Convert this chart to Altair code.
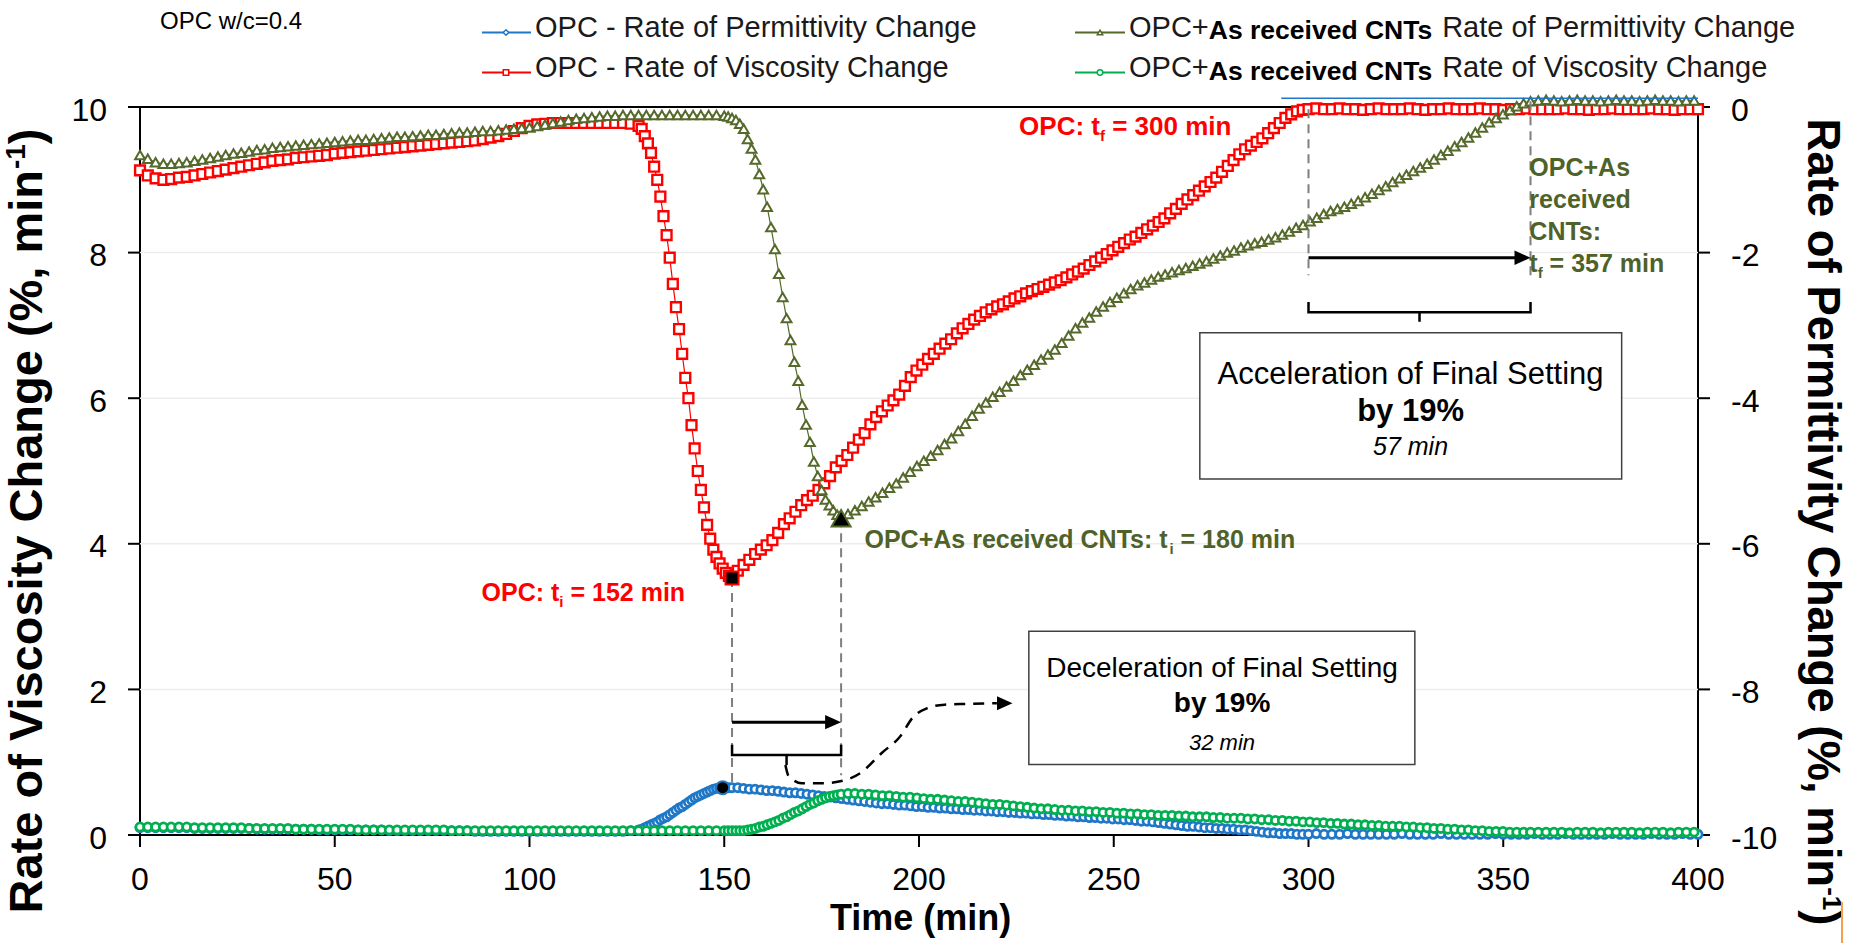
import altair as alt
import numpy as np
import pandas as pd

FONT = "Liberation Sans"
RED = "#FF0000"
OLIVE = "#4F6228"
OLIVE_MK = "#55692B"
BLUE = "#1F77C8"
GREEN = "#00B050"
GUIDE = "#7F7F7F"

# ---------------- sampling times (min) ----------------
T_OPC = np.round(np.concatenate([
    np.arange(0, 129, 2.0),            # 0-128
    128.8 + 0.8 * np.arange(30),       # 128.8-152
    152 + 1.48 * np.arange(1, 101),    # 153.5-300
    np.arange(302, 401, 2.0),          # 302-400
]), 2)
T_CNT = np.round(np.concatenate([
    np.arange(0, 151, 2.0),            # 0-150
    np.arange(151, 181, 1.0),          # 151-180
    180 + 1.77 * np.arange(1, 101),    # 181.8-357
    np.arange(359, 400, 2.0),          # 359-399
]), 2)

# ---------------- OPC - Rate of Viscosity Change (red squares) ----------------
OPC_VISC = [
    9.13, 9.06, 9.02, 9.00, 9.01, 9.03, 9.04, 9.06, 9.08, 9.10,
    9.12, 9.14, 9.16, 9.18, 9.20, 9.22, 9.24, 9.26, 9.27, 9.28,
    9.30, 9.31, 9.32, 9.33, 9.34, 9.36, 9.37, 9.38, 9.39, 9.40,
    9.41, 9.42, 9.43, 9.44, 9.45, 9.46, 9.47, 9.48, 9.49, 9.50,
    9.51, 9.52, 9.53, 9.54, 9.56, 9.58, 9.60, 9.63, 9.67, 9.71,
    9.74, 9.76, 9.77, 9.78, 9.78, 9.78, 9.78, 9.78, 9.78, 9.78,
    9.78, 9.78, 9.78, 9.77, 9.74,
] + [
    9.70, 9.60, 9.50, 9.37, 9.18, 9.00, 8.77, 8.50, 8.24, 7.93,
    7.57, 7.25, 6.95, 6.61, 6.28, 6.00, 5.63, 5.31, 5.00, 4.74,
    4.50, 4.26, 4.07, 3.92, 3.82, 3.73, 3.66, 3.60, 3.56, 3.53,
] + [
    3.63, 3.71, 3.78, 3.86, 3.92, 3.98, 4.05, 4.15, 4.27, 4.35,
    4.44, 4.53, 4.60, 4.66, 4.74, 4.83, 4.93, 5.05, 5.14, 5.22,
    5.32, 5.43, 5.52, 5.64, 5.74, 5.82, 5.90, 5.97, 6.05, 6.17,
    6.29, 6.38, 6.46, 6.54, 6.61, 6.68, 6.75, 6.81, 6.89, 6.96,
    7.02, 7.08, 7.13, 7.18, 7.22, 7.26, 7.29, 7.33, 7.37, 7.40,
    7.44, 7.47, 7.50, 7.53, 7.56, 7.59, 7.62, 7.66, 7.70, 7.74,
    7.78, 7.83, 7.88, 7.93, 7.98, 8.03, 8.08, 8.13, 8.18, 8.22,
    8.27, 8.32, 8.37, 8.42, 8.47, 8.54, 8.60, 8.67, 8.73, 8.79,
    8.85, 8.91, 8.97, 9.03, 9.11, 9.19, 9.27, 9.35, 9.42, 9.47,
    9.52, 9.57, 9.64, 9.71, 9.78, 9.85, 9.90, 9.94, 9.96, 9.97,
] + [
    9.98, 9.97, 9.97, 9.98, 9.97, 9.97, 9.96, 9.97, 9.98, 9.97,
    9.97, 9.97, 9.98, 9.97, 9.96, 9.97, 9.97, 9.98, 9.97, 9.97,
    9.97, 9.98, 9.97, 9.97, 9.96, 9.97, 9.97, 9.98, 9.97, 9.97,
    9.97, 9.97, 9.98, 9.97, 9.97, 9.96, 9.97, 9.97, 9.98, 9.97,
    9.97, 9.97, 9.97, 9.98, 9.97, 9.97, 9.96, 9.97, 9.97, 9.97,
]

# ---------------- OPC - Rate of Permittivity Change (blue circles) ----------------
OPC_PERM = [
    0.10, 0.10, 0.10, 0.10, 0.10, 0.10, 0.10, 0.09, 0.09, 0.09,
    0.09, 0.09, 0.09, 0.09, 0.09, 0.08, 0.08, 0.08, 0.08, 0.08,
    0.08, 0.08, 0.08, 0.07, 0.07, 0.07, 0.07, 0.07, 0.07, 0.07,
    0.07, 0.07, 0.06, 0.06, 0.06, 0.06, 0.06, 0.06, 0.06, 0.06,
    0.06, 0.06, 0.06, 0.05, 0.05, 0.05, 0.05, 0.05, 0.05, 0.05,
    0.05, 0.05, 0.05, 0.05, 0.05, 0.05, 0.05, 0.05, 0.05, 0.05,
    0.05, 0.05, 0.05, 0.06, 0.07,
] + [
    0.08, 0.10, 0.12, 0.14, 0.16, 0.18, 0.21, 0.23, 0.25, 0.28,
    0.31, 0.34, 0.37, 0.39, 0.42, 0.45, 0.48, 0.51, 0.53, 0.55,
    0.57, 0.59, 0.61, 0.63, 0.64, 0.64, 0.65, 0.65, 0.65, 0.65,
] + [
    0.65, 0.64, 0.63, 0.63, 0.62, 0.61, 0.61, 0.60, 0.59, 0.58,
    0.58, 0.57, 0.56, 0.55, 0.54, 0.53, 0.52, 0.51, 0.50, 0.49,
    0.48, 0.47, 0.46, 0.45, 0.44, 0.43, 0.43, 0.42, 0.41, 0.41,
    0.40, 0.39, 0.39, 0.38, 0.38, 0.37, 0.37, 0.36, 0.36, 0.35,
    0.35, 0.34, 0.34, 0.33, 0.33, 0.32, 0.32, 0.31, 0.31, 0.30,
    0.30, 0.29, 0.29, 0.28, 0.28, 0.27, 0.27, 0.26, 0.26, 0.25,
    0.25, 0.24, 0.24, 0.23, 0.23, 0.22, 0.22, 0.21, 0.21, 0.20,
    0.19, 0.19, 0.18, 0.17, 0.16, 0.15, 0.14, 0.13, 0.12, 0.12,
    0.11, 0.10, 0.10, 0.09, 0.09, 0.08, 0.08, 0.07, 0.07, 0.06,
    0.05, 0.04, 0.03, 0.03, 0.02, 0.02, 0.02, 0.01, 0.01, 0.01,
] + [
    0.02, 0.01, 0.01, 0.01, 0.02, 0.01, 0.01, 0.01, 0.01, 0.01,
    0.01, 0.02, 0.01, 0.01, 0.01, 0.01, 0.02, 0.01, 0.01, 0.01,
    0.01, 0.01, 0.01, 0.02, 0.01, 0.01, 0.01, 0.01, 0.02, 0.01,
    0.01, 0.01, 0.02, 0.01, 0.01, 0.01, 0.01, 0.01, 0.02, 0.01,
    0.01, 0.01, 0.01, 0.02, 0.01, 0.01, 0.01, 0.02, 0.01, 0.01,
]

# ---------------- OPC+As received CNTs Rate of Permittivity Change (olive triangles) ----------------
CNT_PERM = [
    9.34, 9.29, 9.24, 9.22, 9.22, 9.23, 9.24, 9.26, 9.28, 9.30,
    9.32, 9.34, 9.36, 9.37, 9.39, 9.41, 9.42, 9.44, 9.45, 9.46,
    9.47, 9.48, 9.49, 9.50, 9.51, 9.52, 9.53, 9.54, 9.55, 9.55,
    9.56, 9.57, 9.58, 9.59, 9.59, 9.60, 9.61, 9.62, 9.62, 9.63,
    9.64, 9.65, 9.65, 9.66, 9.67, 9.67, 9.68, 9.69, 9.70, 9.71,
    9.72, 9.74, 9.76, 9.78, 9.80, 9.82, 9.84, 9.85, 9.86, 9.87,
    9.88, 9.88, 9.89, 9.89, 9.89, 9.89, 9.89, 9.89, 9.89, 9.89,
    9.89, 9.89, 9.89, 9.89, 9.89, 9.88,
] + [
    9.87, 9.85, 9.82, 9.77, 9.70, 9.56, 9.43, 9.28, 9.08, 8.87,
    8.63, 8.35, 8.05, 7.71, 7.39, 7.10, 6.80, 6.50, 6.24, 5.91,
    5.64, 5.40, 5.13, 4.93, 4.74, 4.61, 4.53, 4.46, 4.40, 4.35,
] + [
    4.41, 4.46, 4.52, 4.58, 4.64, 4.70, 4.77, 4.83, 4.91, 4.99,
    5.07, 5.14, 5.21, 5.29, 5.37, 5.45, 5.55, 5.65, 5.76, 5.86,
    5.94, 6.02, 6.09, 6.16, 6.24, 6.32, 6.39, 6.46, 6.53, 6.60,
    6.67, 6.76, 6.86, 6.96, 7.04, 7.11, 7.19, 7.26, 7.32, 7.38,
    7.44, 7.50, 7.55, 7.59, 7.63, 7.67, 7.70, 7.73, 7.76, 7.79,
    7.82, 7.85, 7.88, 7.92, 7.96, 8.00, 8.03, 8.07, 8.10, 8.13,
    8.15, 8.18, 8.21, 8.25, 8.29, 8.34, 8.38, 8.43, 8.48, 8.53,
    8.57, 8.60, 8.63, 8.67, 8.71, 8.76, 8.81, 8.86, 8.91, 8.97,
    9.02, 9.07, 9.12, 9.17, 9.22, 9.28, 9.34, 9.40, 9.46, 9.52,
    9.58, 9.65, 9.72, 9.79, 9.85, 9.90, 9.96, 10.01, 10.05, 10.08,
] + [
    10.09, 10.10, 10.09, 10.08, 10.09, 10.10, 10.09, 10.09, 10.08, 10.09,
    10.10, 10.09, 10.09, 10.08, 10.09, 10.10, 10.09, 10.09, 10.08, 10.09,
    10.09,
]

# ---------------- OPC+As received CNTs Rate of Viscosity Change (green circles) ----------------
CNT_VISC = [
    0.11, 0.11, 0.11, 0.11, 0.11, 0.11, 0.11, 0.10, 0.10, 0.10,
    0.10, 0.10, 0.10, 0.10, 0.09, 0.09, 0.09, 0.09, 0.09, 0.09,
    0.08, 0.08, 0.08, 0.08, 0.08, 0.08, 0.08, 0.08, 0.07, 0.07,
    0.07, 0.07, 0.07, 0.07, 0.07, 0.07, 0.07, 0.07, 0.07, 0.07,
    0.06, 0.06, 0.06, 0.06, 0.06, 0.06, 0.06, 0.06, 0.06, 0.06,
    0.06, 0.06, 0.06, 0.06, 0.06, 0.06, 0.06, 0.06, 0.06, 0.06,
    0.06, 0.06, 0.06, 0.06, 0.06, 0.06, 0.06, 0.06, 0.06, 0.06,
    0.06, 0.06, 0.06, 0.06, 0.06, 0.06,
] + [
    0.06, 0.06, 0.06, 0.06, 0.06, 0.07, 0.08, 0.09, 0.11, 0.12,
    0.14, 0.16, 0.18, 0.20, 0.23, 0.25, 0.28, 0.31, 0.33, 0.36,
    0.39, 0.42, 0.44, 0.47, 0.49, 0.51, 0.53, 0.54, 0.55, 0.56,
] + [
    0.57, 0.57, 0.56, 0.56, 0.55, 0.54, 0.54, 0.53, 0.52, 0.52,
    0.51, 0.50, 0.49, 0.49, 0.48, 0.47, 0.46, 0.46, 0.45, 0.44,
    0.43, 0.42, 0.42, 0.41, 0.40, 0.39, 0.38, 0.37, 0.36, 0.36,
    0.35, 0.34, 0.34, 0.33, 0.33, 0.32, 0.32, 0.31, 0.31, 0.30,
    0.30, 0.29, 0.29, 0.28, 0.28, 0.27, 0.27, 0.27, 0.26, 0.26,
    0.25, 0.25, 0.25, 0.24, 0.24, 0.23, 0.23, 0.23, 0.22, 0.22,
    0.21, 0.21, 0.20, 0.20, 0.19, 0.19, 0.18, 0.18, 0.17, 0.17,
    0.16, 0.16, 0.15, 0.15, 0.14, 0.14, 0.13, 0.13, 0.12, 0.12,
    0.12, 0.11, 0.11, 0.10, 0.10, 0.09, 0.09, 0.08, 0.08, 0.07,
    0.07, 0.06, 0.06, 0.05, 0.05, 0.05, 0.04, 0.04, 0.04, 0.04,
] + [
    0.04, 0.04, 0.04, 0.04, 0.03, 0.04, 0.04, 0.04, 0.03, 0.04,
    0.04, 0.04, 0.04, 0.03, 0.04, 0.04, 0.04, 0.03, 0.04, 0.04,
    0.04,
]

# setting times quoted in the annotations (min)
TI_OPC, TI_CNT = 152, 180
TF_OPC, TF_CNT = 300, 357

X_TICKS = list(range(0, 401, 50))
YL_TICKS = [0, 2, 4, 6, 8, 10]
YR_LABELS = ["-10", "-8", "-6", "-4", "-2", "0"]
GRID_AT = [2, 4, 6, 8]

opc = pd.DataFrame({"t": T_OPC, "perm": OPC_PERM, "visc": OPC_VISC})
cnt = pd.DataFrame({"t": T_CNT, "perm": CNT_PERM, "visc": CNT_VISC})

W, H = 1558, 728
XS = alt.Scale(domain=[0, 400], nice=False, zero=False)
YS = alt.Scale(domain=[0, 10], nice=False, zero=False)
ONE = pd.DataFrame({"a": [0]})

# ---------------- text measuring (Arial / Liberation Sans advance widths) ----------------
_CH = " !%()+,-./0123456789:=ABCDEFGHIJKLMNOPQRSTUVWXYZabcdefghijklmnopqrstuvwxyz"
_REG = [278, 278, 889, 333, 333, 584, 278, 333, 278, 278] + [556] * 10 + [278, 584] + \
       [667, 667, 722, 722, 667, 611, 778, 722, 278, 500, 667, 556, 833, 722, 778, 667, 778, 722,
        667, 611, 722, 667, 944, 667, 667, 611] + \
       [556, 556, 500, 556, 556, 278, 556, 556, 222, 222, 500, 222, 833, 556, 556, 556, 556, 333,
        500, 278, 556, 500, 722, 500, 500, 500]
_BLD = [278, 333, 889, 333, 333, 584, 278, 333, 278, 278] + [556] * 10 + [333, 584] + \
       [722, 722, 722, 722, 667, 611, 778, 722, 278, 556, 722, 611, 833, 722, 778, 667, 778, 722,
        667, 611, 722, 667, 944, 667, 667, 611] + \
       [556, 611, 556, 611, 556, 333, 611, 611, 278, 278, 556, 278, 889, 611, 611, 611, 611, 389,
        556, 333, 611, 556, 778, 556, 556, 500]
REG_W = dict(zip(_CH, _REG))
BLD_W = dict(zip(_CH, _BLD))


def text_w(s, size, bold):
    tab = BLD_W if bold else REG_W
    return sum(tab.get(c, 556) for c in s) * size / 1000.0


def R(text, size, bold=False, color="black", style="normal", dy=0):
    return (text, size, bold, color, style, dy)


def X(field):
    return alt.X(field, scale=XS, axis=None)


def Y(field):
    return alt.Y(field, scale=YS, axis=None)


def rich(runs, t=None, v=None, px=None, py=None, align="left", angle=0):
    """Text made of differently styled runs laid out one after another."""
    widths = [text_w(r[0], r[1], r[2]) for r in runs]
    total = sum(widths)
    pos = {"left": 0.0, "center": -total / 2.0, "right": -total}[align]
    out = []
    for (text, size, bold, color, style, dy), w in zip(runs, widths):
        body = text.lstrip(" ")
        lead = text_w(text[: len(text) - len(body)], size, bold)
        if px is None:
            base = alt.Chart(pd.DataFrame({"t": [t], "v": [v]})).encode(x=X("t:Q"), y=Y("v:Q"))
        else:
            base = alt.Chart(ONE).encode(x=alt.value(px), y=alt.value(py))
        out.append(base.mark_text(
            text=body, align="left", baseline="alphabetic", font=FONT, fontSize=size,
            fontWeight="bold" if bold else "normal", fontStyle=style, color=color,
            dx=round(pos + lead, 2), dy=dy, angle=angle))
        pos += w
    return out


layers = []

# ---------------- axes, drawn from the scales ----------------
grid = pd.DataFrame({"v": GRID_AT})
layers.append(alt.Chart(grid).mark_rule(color="#EDEDED", strokeWidth=1.5).encode(
    x=alt.value(0), x2=alt.value(W), y=Y("v:Q")))

yticks = pd.DataFrame({"v": YL_TICKS, "lab": [str(v) for v in YL_TICKS], "rlab": YR_LABELS})
layers.append(alt.Chart(yticks).mark_rule(color="black", strokeWidth=2).encode(
    x=alt.value(-12), x2=alt.value(0), y=Y("v:Q")))
layers.append(alt.Chart(yticks).mark_text(align="right", baseline="alphabetic", dy=13.5,
                                          font=FONT, fontSize=32, color="black").encode(
    x=alt.value(-33), y=Y("v:Q"), text="lab:N"))
layers.append(alt.Chart(yticks).mark_rule(color="black", strokeWidth=2).encode(
    x=alt.value(W), x2=alt.value(W + 12), y=Y("v:Q")))
layers.append(alt.Chart(yticks).mark_text(align="left", baseline="alphabetic", dy=13.5,
                                          font=FONT, fontSize=32, color="black").encode(
    x=alt.value(W + 33), y=Y("v:Q"), text="rlab:N"))

xticks = pd.DataFrame({"t": X_TICKS, "lab": [str(t) for t in X_TICKS]})
layers.append(alt.Chart(xticks).mark_rule(color="black", strokeWidth=2).encode(
    x=X("t:Q"), y=alt.value(H), y2=alt.value(H + 12)))
layers.append(alt.Chart(xticks).mark_text(align="center", baseline="alphabetic", font=FONT,
                                          fontSize=32, color="black").encode(
    x=X("t:Q"), y=alt.value(H + 55), text="lab:N"))


def series(df, col, color, shape, size, sw):
    base = alt.Chart(df).encode(x=X("t:Q"), y=Y(f"{col}:Q"))
    return [base.mark_line(color=color, strokeWidth=1.2),
            base.mark_point(shape=shape, size=size, filled=True, fill="white", stroke=color,
                            strokeWidth=sw, opacity=1)]


layers += series(opc, "perm", BLUE, "circle", 66, 2.8)
layers += series(opc, "visc", RED, "square", 96, 2.4)
layers += series(cnt, "perm", OLIVE_MK, "triangle-up", 96, 2.0)
layers += series(cnt, "visc", GREEN, "circle", 66, 2.8)

# thin blue trace along the top edge
top_df = pd.DataFrame({"t": [293], "t2": [400], "v": [10.12]})
layers.append(alt.Chart(top_df).mark_rule(color=BLUE, strokeWidth=1.5).encode(
    x=X("t:Q"), x2="t2:Q", y=Y("v:Q")))

# setting points picked from the curves
i_sq = int(np.argmin(OPC_VISC))
i_tr = int(np.argmin(CNT_PERM))
i_ci = int(np.argmax(OPC_PERM))
v_sq, v_tr = OPC_VISC[i_sq], CNT_PERM[i_tr]

# dashed guides
guides = pd.DataFrame({
    "t": [TI_OPC, TI_CNT, TF_OPC, TF_CNT],
    "v1": [v_sq, v_tr, 9.97, 10.08],
    "v2": [0.65, 0.82, 7.69, 7.69],
})
layers.append(alt.Chart(guides).mark_rule(color=GUIDE, strokeWidth=2, strokeDash=[9, 6]).encode(
    x=X("t:Q"), y=Y("v1:Q"), y2="v2:Q"))


def big(t, v, shape, size, edge):
    return alt.Chart(pd.DataFrame({"t": [t], "v": [v]})).mark_point(
        shape=shape, size=size, filled=True, fill="black", stroke=edge, strokeWidth=2,
        opacity=1).encode(x=X("t:Q"), y=Y("v:Q"))


layers.append(big(T_OPC[i_sq], v_sq, "square", 170, RED))
layers.append(big(T_CNT[i_tr], v_tr, "triangle-up", 360, OLIVE_MK))
layers.append(big(T_OPC[i_ci], OPC_PERM[i_ci], "circle", 170, BLUE))

# arrows between setting times
HEAD = "M0,0L-2,-0.9L-2,0.9Z"
arrows = pd.DataFrame({"t1": [TI_OPC, TF_OPC], "t2": [TI_CNT - 2, TF_CNT - 2],
                       "tip": [TI_CNT, TF_CNT], "v": [1.55, 7.93]})
layers.append(alt.Chart(arrows).mark_rule(color="black", strokeWidth=3).encode(
    x=X("t1:Q"), x2="t2:Q", y=Y("v:Q")))
layers.append(alt.Chart(arrows).mark_point(shape=HEAD, size=256, filled=True, color="black",
                                           opacity=1, strokeWidth=0).encode(
    x=X("tip:Q"), y=Y("v:Q")))

# braces under the arrows
brace = pd.DataFrame({
    "g": ["lo"] * 4 + ["hi"] * 4,
    "o": [0, 1, 2, 3] * 2,
    "t": [TI_OPC, TI_OPC, TI_CNT, TI_CNT, TF_OPC, TF_OPC, TF_CNT, TF_CNT],
    "v": [1.24, 1.10, 1.10, 1.24, 7.32, 7.18, 7.18, 7.32],
})
layers.append(alt.Chart(brace).mark_line(color="black", strokeWidth=2.5).encode(
    x=X("t:Q"), y=Y("v:Q"), detail="g:N", order="o:Q"))
stems = pd.DataFrame({"t": [(TI_OPC + TI_CNT) / 2, (TF_OPC + TF_CNT) / 2],
                      "v1": [1.10, 7.18], "v2": [0.96, 7.05]})
layers.append(alt.Chart(stems).mark_rule(color="black", strokeWidth=2.5).encode(
    x=X("t:Q"), y=Y("v1:Q"), y2="v2:Q"))

# dashed leader from the lower brace to its note
CURVE_T = [165.7, 166.4, 167.6, 169.9, 174.6, 179.1, 184.9, 190.5, 195.1, 198.5, 202.0, 206.6,
           212.0, 220.0]
CURVE_V = [0.96, 0.82, 0.76, 0.71, 0.71, 0.73, 0.85, 1.13, 1.35, 1.62, 1.74, 1.79, 1.80, 1.81]
curve = pd.DataFrame({"t": CURVE_T, "v": CURVE_V})
layers.append(alt.Chart(curve).mark_line(color="black", strokeWidth=2.5, strokeDash=[11, 8],
                                         interpolate="monotone").encode(x=X("t:Q"), y=Y("v:Q")))
layers.append(alt.Chart(pd.DataFrame({"t": [224.0], "v": [1.81]})).mark_point(
    shape=HEAD, size=240, filled=True, color="black", opacity=1, strokeWidth=0).encode(
    x=X("t:Q"), y=Y("v:Q")))

# note boxes
boxes = pd.DataFrame({"t1": [228.2, 272.1], "t2": [327.3, 380.4],
                      "v1": [2.80, 6.90], "v2": [0.97, 4.89]})
layers.append(alt.Chart(boxes).mark_rect(fill="white", stroke="#404040", strokeWidth=1.5).encode(
    x=X("t1:Q"), x2="t2:Q", y=Y("v1:Q"), y2="v2:Q"))

layers += rich([R("Deceleration of Final Setting", 28)], t=277.8, v=2.17, align="center")
layers += rich([R("by 19%", 28, bold=True)], t=277.8, v=1.69, align="center")
layers += rich([R("32 min", 22, style="italic")], t=277.8, v=1.17, align="center")
layers += rich([R("Acceleration of Final Setting", 31)], t=326.2, v=6.20, align="center")
layers += rich([R("by 19%", 31, bold=True)], t=326.2, v=5.68, align="center")
layers += rich([R("57 min", 25, style="italic")], t=326.2, v=5.22, align="center")

# setting-time labels
layers += rich([R("OPC: t", 25, True, RED), R("i", 15, True, RED, dy=6),
                R(f" = {TI_OPC} min", 25, True, RED)], t=87.7, v=3.22)
layers += rich([R("OPC+As received CNTs: t", 25, True, OLIVE), R("i", 15, True, OLIVE, dy=6),
                R(f" = {TI_CNT} min", 25, True, OLIVE)], t=186.0, v=3.94)
layers += rich([R("OPC: t", 26, True, RED), R("f", 15, True, RED, dy=6),
                R(f" = {TF_OPC} min", 26, True, RED)], t=225.7, v=9.62)
layers += rich([R("OPC+As", 25, True, OLIVE)], t=356.7, v=9.05)
layers += rich([R("received", 25, True, OLIVE)], t=356.7, v=8.61)
layers += rich([R("CNTs:", 25, True, OLIVE)], t=356.7, v=8.17)
layers += rich([R("t", 25, True, OLIVE), R("f", 15, True, OLIVE, dy=6),
                R(f" = {TF_CNT} min", 25, True, OLIVE)], t=356.7, v=7.74)

# axis titles
layers += rich([R("Time (min)", 36, True)], px=781, py=823, align="center")
layers += rich([R("Rate of Viscosity Change (%, min", 47, True), R("-1", 28, True, dy=-17),
                R(")", 47, True)], px=-98, py=414, align="center", angle=270)
layers += rich([R("Rate of Permittivity Change (%, min", 45.5, True), R("-1", 26, True, dy=-15),
                R(")", 45.5, True)], px=1668, py=415, align="center", angle=90)

# header note
layers += rich([R("OPC w/c=0.4", 24)], px=20, py=-78)

# legend
LEG = [
    (342, 391, 366, -74.5, -70, BLUE, "diamond",
     [R("OPC - Rate of Permittivity Change", 29, color="#1A1A1A")]),
    (342, 391, 366, -34.5, -30, RED, "square",
     [R("OPC - Rate of Viscosity Change", 29, color="#1A1A1A")]),
    (935, 985, 960, -74.5, -70, OLIVE_MK, "triangle-up",
     [R("OPC+", 29, color="#1A1A1A"), R("As received CNTs", 26.5, True, dy=2),
      R(" Rate of Permittivity Change", 29, color="#1A1A1A")]),
    (935, 985, 960, -34.5, -30, GREEN, "circle",
     [R("OPC+", 29, color="#1A1A1A"), R("As received CNTs", 26.5, True, dy=3),
      R(" Rate of Viscosity Change", 29, color="#1A1A1A")]),
]
for x1, x2, xm, yl, yb, col, shp, runs in LEG:
    layers.append(alt.Chart(ONE).mark_rule(color=col, strokeWidth=2).encode(
        x=alt.value(x1), x2=alt.value(x2), y=alt.value(yl)))
    layers.append(alt.Chart(ONE).mark_point(shape=shp, size=30, filled=True, fill="white",
                                            stroke=col, strokeWidth=1.5, opacity=1).encode(
        x=alt.value(xm), y=alt.value(yl)))
    layers += rich(runs, px=x2 + 4, py=yb)

# small orange mark at the lower right edge
layers.append(alt.Chart(ONE).mark_rule(color="#F4A24A", strokeWidth=2).encode(
    x=alt.value(1702), y=alt.value(795), y2=alt.value(836)))

chart = alt.layer(*layers).properties(
    width=W, height=H,
    autosize=alt.AutoSizeParams(type="none"),
    padding={"left": 140, "top": 107, "right": 151, "bottom": 113},
    background="white",
).configure_view(stroke="black", strokeWidth=2)

chart.save("out.html", embed_options={"renderer": "svg", "actions": False})
